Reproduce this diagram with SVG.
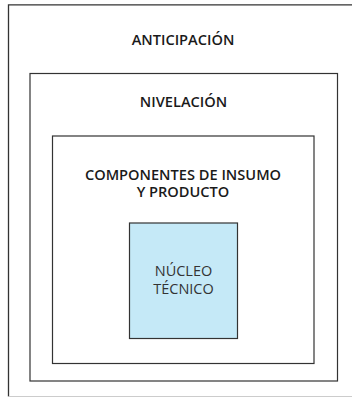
<svg xmlns="http://www.w3.org/2000/svg" width="352" height="398" viewBox="0 0 352 398">
<style>
.box{fill:#fff;stroke:#333;stroke-width:1.2}
.core{fill:#c5e9f7;stroke:#333;stroke-width:1.2}
.lbl{font-family:"Open Sans","Noto Sans",sans-serif;font-size:14.6px;font-weight:600;fill:#1a1a1a;text-anchor:middle}
.lblc{font-family:"Open Sans","Noto Sans",sans-serif;font-size:14.5px;font-weight:400;fill:#333;text-anchor:middle}
</style>
<rect width="352" height="398" fill="#fff"/>
<g id="anticipacion">
<path d="M352 4.8 H8.5 V396.5" fill="none" stroke="#333" stroke-width="1.3"/>
<path d="M8.5 396.5 H352" fill="none" stroke="#ccc" stroke-width="1"/>
<text class="lbl" x="183" y="45">ANTICIPACIÓN</text>
</g>
<g id="nivelacion">
<rect class="box" x="30" y="73.5" width="307.5" height="307.5"/>
<text class="lbl" x="183.5" y="107">NIVELACIÓN</text>
</g>
<g id="componentes">
<rect class="box" x="52.5" y="136" width="261.5" height="227.5"/>
<text class="lbl" x="183" y="179.5">COMPONENTES DE INSUMO<tspan x="183" dy="17.2">Y PRODUCTO</tspan></text>
</g>
<g id="nucleo">
<rect class="core" x="129.5" y="223" width="108" height="115.5"/>
<text class="lblc" x="183.5" y="276">NÚCLEO<tspan x="183.5" dy="18">TÉCNICO</tspan></text>
</g>
<g id="connectors"/>
</svg>
